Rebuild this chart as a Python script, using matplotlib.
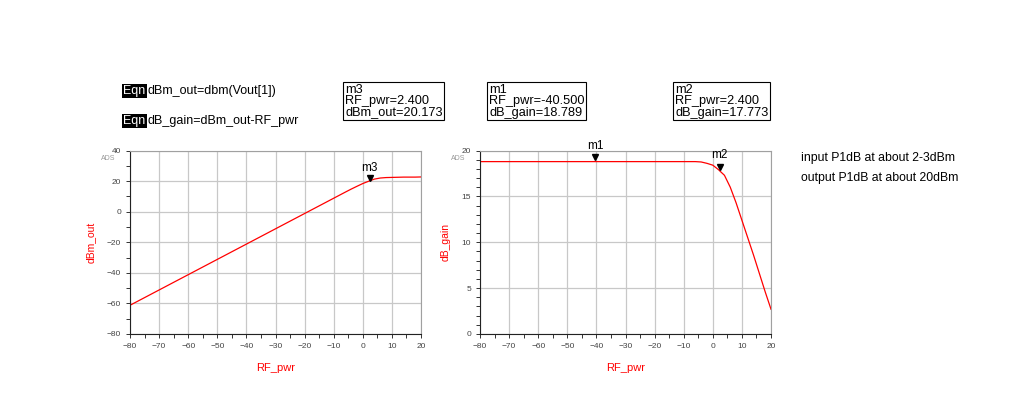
import numpy as np
import matplotlib
matplotlib.use("Agg")
import matplotlib.pyplot as plt
from matplotlib.ticker import MultipleLocator

plt.rcParams['font.family'] = ['Liberation Sans', 'DejaVu Sans']

# swept input power and the two curves
rf_pwr = [-80, -6, -4, -2, 0, 2, 2.4, 4, 6, 8, 10, 12, 14, 16, 18, 20]
dbm_out = [-61.21, 12.79, 14.75, 16.6, 18.4, 19.9, 20.173, 21.3, 22.0, 22.3,
           22.4, 22.5, 22.6, 22.6, 22.6, 22.7]
db_gain = [18.789, 18.789, 18.75, 18.6, 18.4, 17.9, 17.773, 17.3, 16.0, 14.3,
           12.4, 10.5, 8.6, 6.6, 4.6, 2.7]

# markers: name, x, y
m3 = ("m3", 2.4, 20.173)
m1 = ("m1", -40.5, 18.789)
m2 = ("m2", 2.4, 17.773)

fig = plt.figure(figsize=(10.23, 3.99), dpi=100)

def setup(ax, ylim, ymaj, ymin, ylabel):
    ax.set_xlim(-80, 20)
    ax.set_ylim(*ylim)
    ax.xaxis.set_major_locator(MultipleLocator(10))
    ax.xaxis.set_minor_locator(MultipleLocator(5))
    ax.yaxis.set_major_locator(MultipleLocator(ymaj))
    ax.yaxis.set_minor_locator(MultipleLocator(ymin))
    ax.grid(True, which='major', color='#c8c8c8', lw=0.9)
    ax.set_axisbelow(True)
    ax.tick_params(which='both', direction='out', labelsize=6,
                   labelcolor='#444444', color='#333333', width=0.7)
    ax.tick_params(which='major', length=3)
    ax.tick_params(which='minor', length=3)
    for s in ['top', 'right']:
        ax.spines[s].set_color('#a0a0a0')
    for s in ['left', 'bottom']:
        ax.spines[s].set_color('#222222')
    for s in ax.spines.values():
        s.set_linewidth(0.8)
    ax.set_xlabel('RF_pwr', color='red', fontsize=8, labelpad=9)
    ax.set_ylabel(ylabel, color='red', fontsize=7.5, labelpad=8)
    ax.text(-0.075, 0.955, 'ADS', transform=ax.transAxes, fontsize=5,
            color='#999999', ha='center', va='center')

ax1 = fig.add_axes([130 / 1023, 1 - 334 / 399, 291 / 1023, 183.5 / 399])
setup(ax1, (-80, 40), 20, 10, 'dBm_out')
ax1.plot(rf_pwr, dbm_out, color='red', lw=0.9)
ax1.plot([m3[1]], [m3[2] + 1.8], marker='v', color='black', ms=5)
ax1.text(m3[1], m3[2] + 4.5, m3[0], ha='center', va='bottom', fontsize=8.5)

ax2 = fig.add_axes([480 / 1023, 1 - 334 / 399, 291 / 1023, 183.5 / 399])
setup(ax2, (0, 20), 5, 1, 'dB_gain')
ax2.plot(rf_pwr, db_gain, color='red', lw=0.9)
for m in (m1, m2):
    ax2.plot([m[1]], [m[2] + 0.45], marker='v', color='black', ms=5)
    ax2.text(m[1], m[2] + 1.1, m[0], ha='center', va='bottom', fontsize=8.5)

# equation lines
for yy, eq in [(91, 'dBm_out=dbm(Vout[1])'), (121, 'dB_gain=dBm_out-RF_pwr')]:
    fig.text(123 / 1023, 1 - yy / 399, 'Eqn', color='white', fontsize=9,
             va='center', ha='left',
             bbox=dict(facecolor='black', edgecolor='none', pad=1.0))
    fig.text(148 / 1023, 1 - yy / 399, eq, color='black', fontsize=9,
             va='center', ha='left')

# marker readout boxes
boxes = [
    (345, 'm3\nRF_pwr=%.3f\ndBm_out=%.3f' % (m3[1], m3[2])),
    (489, 'm1\nRF_pwr=%.3f\ndB_gain=%.3f' % (m1[1], m1[2])),
    (675, 'm2\nRF_pwr=%.3f\ndB_gain=%.3f' % (m2[1], m2[2])),
]
for xx, txt in boxes:
    fig.text(xx / 1023, 1 - 84 / 399, txt, fontsize=9.2, va='top', ha='left',
             linespacing=0.92,
             bbox=dict(facecolor='white', edgecolor='black', lw=0.8,
                       boxstyle='square,pad=0.12'))

fig.text(801 / 1023, 1 - 158 / 399, 'input P1dB at about 2-3dBm',
         fontsize=8.8, va='center')
fig.text(801 / 1023, 1 - 178 / 399, 'output P1dB at about 20dBm',
         fontsize=8.8, va='center')

fig.savefig('out.png', dpi=100)
